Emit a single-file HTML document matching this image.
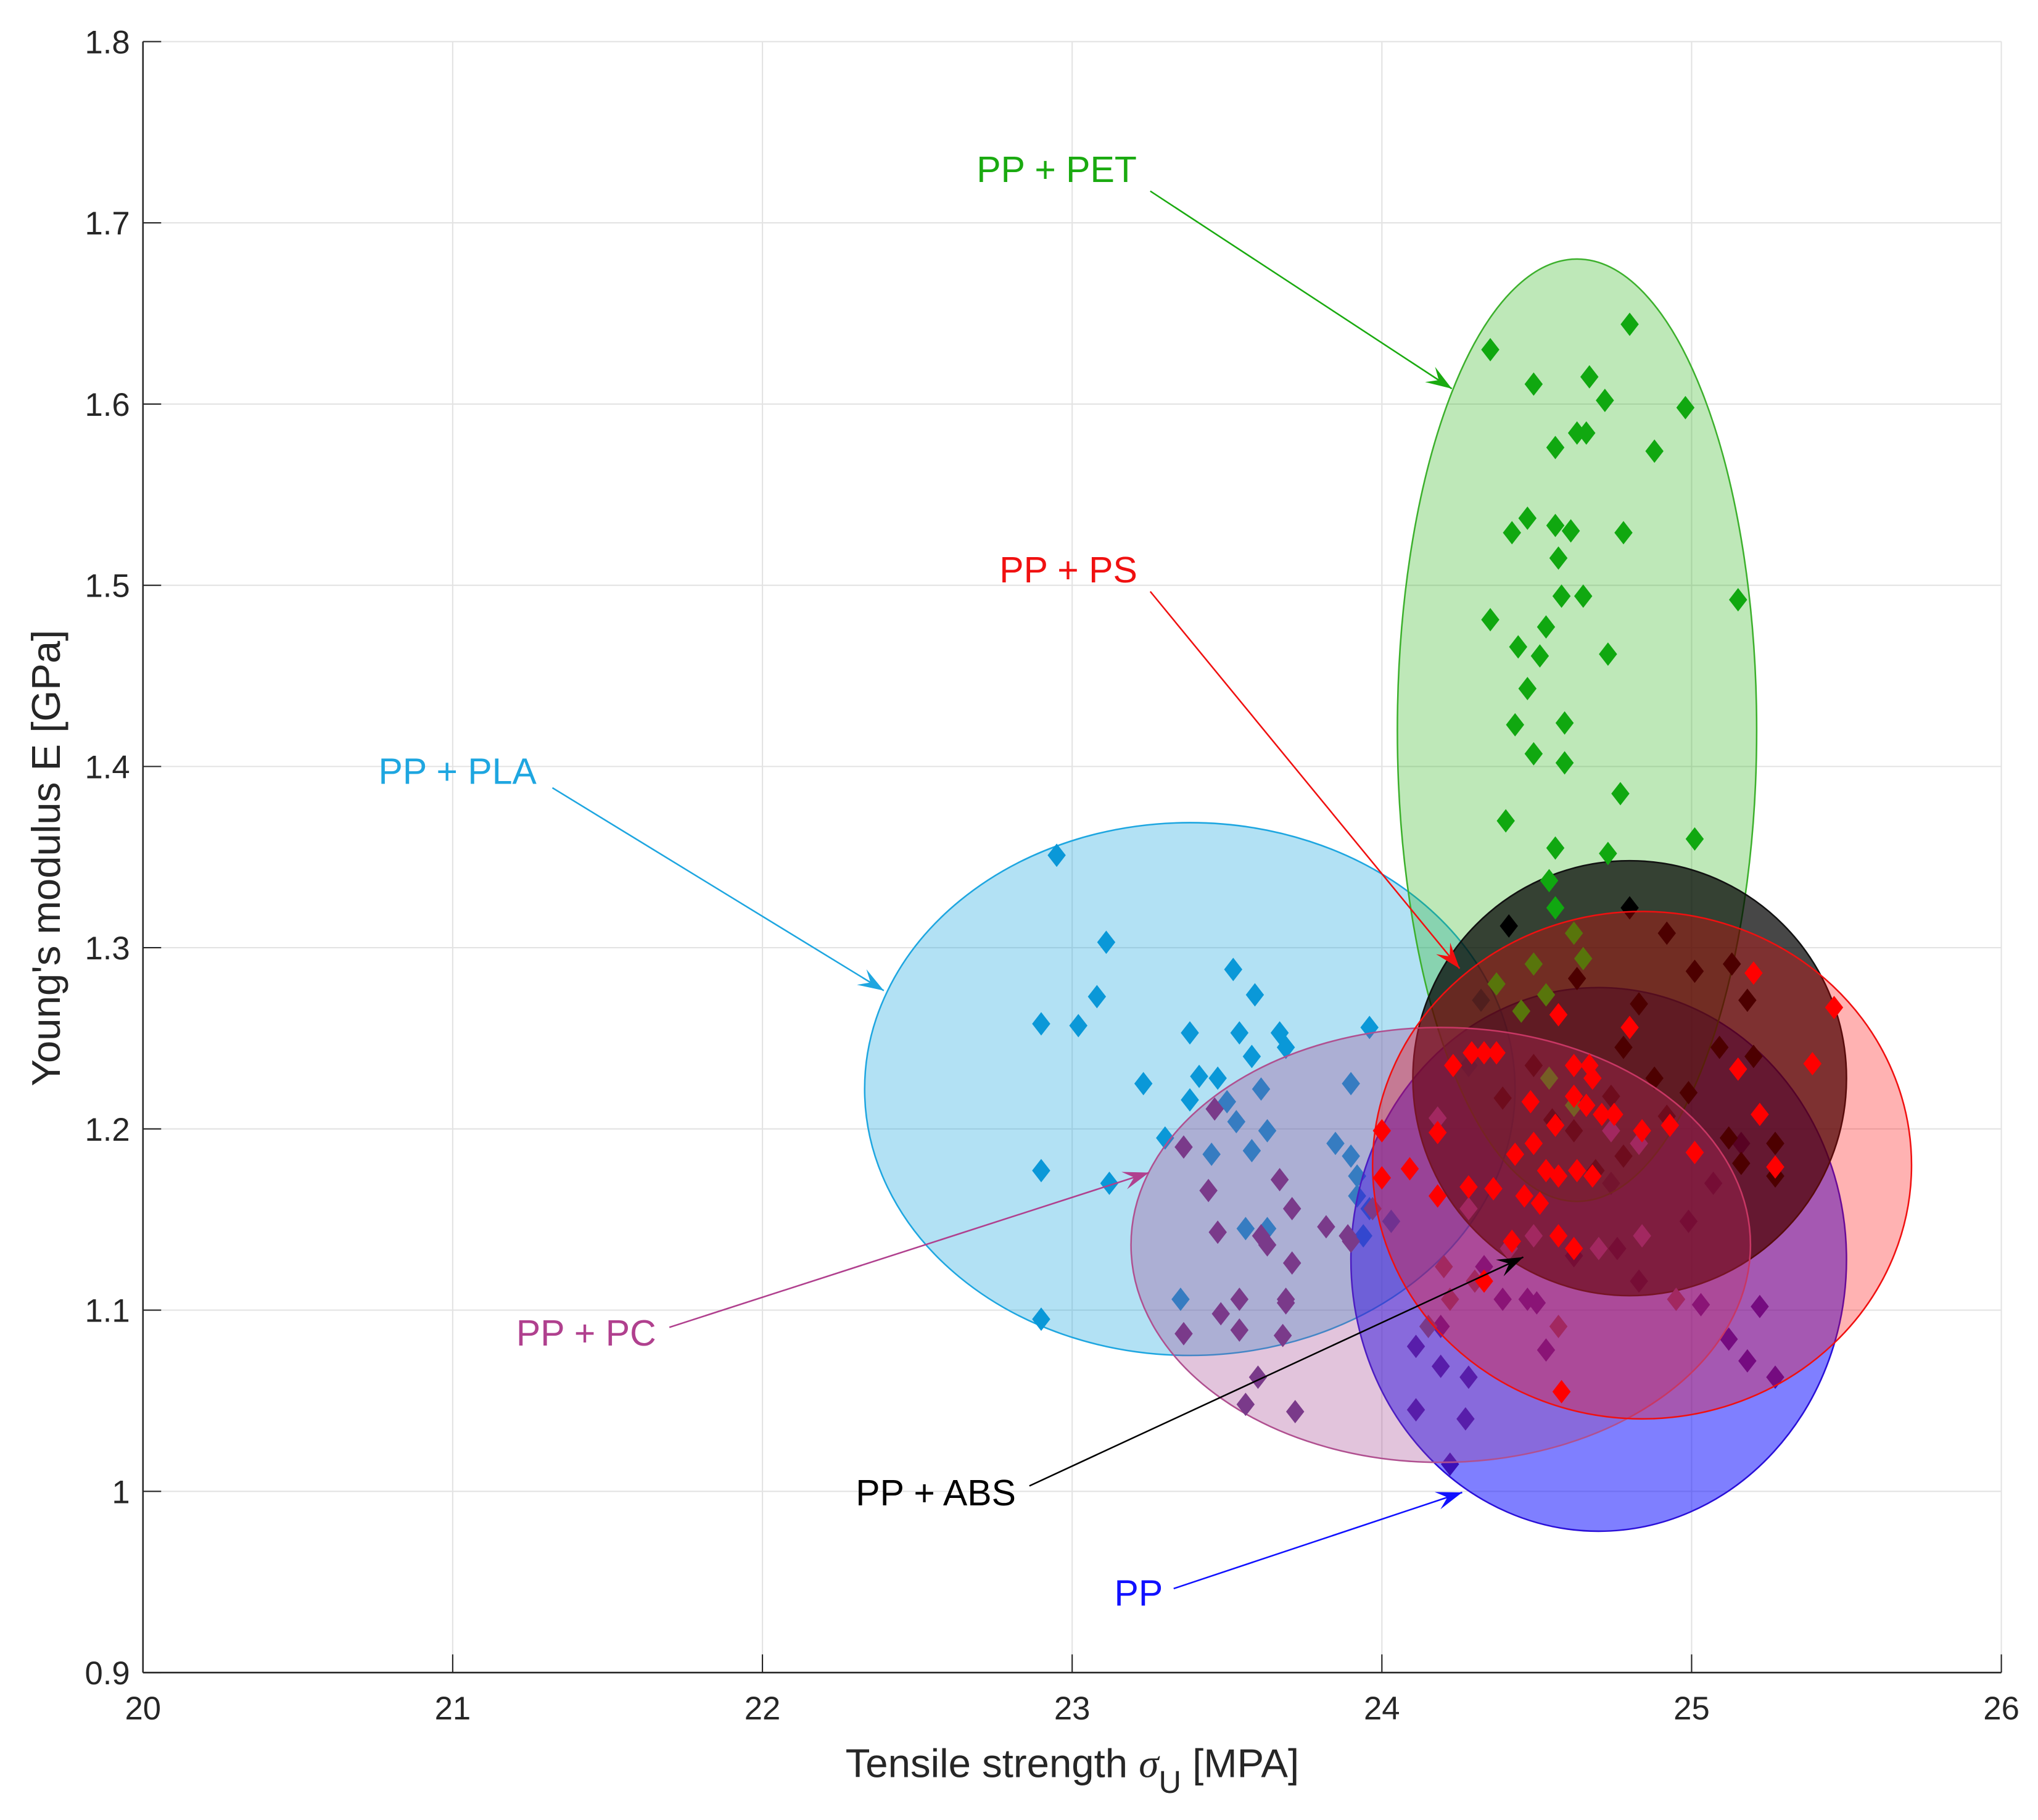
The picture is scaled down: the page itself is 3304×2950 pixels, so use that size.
<!DOCTYPE html>
<html><head><meta charset="utf-8"><style>
html,body{margin:0;padding:0;background:#fff;}
svg{display:block;font-family:"Liberation Sans",Arial,sans-serif;}
</style></head><body>
<svg id="chart" width="3304" height="2950" viewBox="0 0 1568 1400" xmlns="http://www.w3.org/2000/svg">
<g id="grid"></g>
<g id="ell"></g>
<g id="axes"></g>
<g id="ann"></g>
<text x="825" y="1367" font-size="31" text-anchor="middle" fill="#262626">Tensile strength <tspan font-family="Liberation Serif" font-style="italic">σ</tspan><tspan font-size="24" dy="12">U</tspan><tspan dy="-12"> [MPA]</tspan></text>
<text transform="translate(46,660) rotate(-90)" font-size="31" text-anchor="middle" fill="#262626">Young's modulus E [GPa]</text>
</svg>
<script>
const xTicks=[20,21,22,23,24,25,26];
const yTicks=[0.9,1,1.1,1.2,1.3,1.4,1.5,1.6,1.7,1.8];
const yTickLabels=["0.9","1","1.1","1.2","1.3","1.4","1.5","1.6","1.7","1.8"];
const groupNames=["PP + PLA","PP","PP + PET","PP + ABS","PP + PC","PP + PS"];
const ellCx=[23.38,24.70,24.63,24.80,24.19,24.84];
const ellCy=[1.222,1.128,1.420,1.228,1.136,1.180];
const ellRx=[1.05,0.80,0.58,0.70,1.00,0.87];
const ellRy=[0.147,0.150,0.260,0.120,0.120,0.140];
const plaX=[22.95,23.11,22.90,23.02,23.08,23.23,23.38,22.90,23.12,23.30,23.38,23.41,23.47,23.50,23.52,23.54,23.59,23.58,23.61,23.53,23.45,23.58,23.63,23.56,23.63,23.67,23.69,23.85,23.90,23.92,23.90,23.96,23.92,23.96,24.03,23.94,23.35,22.90,24.32,24.28];
const plaY=[1.351,1.303,1.258,1.257,1.273,1.225,1.253,1.177,1.170,1.195,1.216,1.229,1.228,1.215,1.288,1.253,1.274,1.240,1.222,1.204,1.186,1.188,1.199,1.145,1.145,1.253,1.245,1.192,1.185,1.174,1.225,1.256,1.163,1.156,1.149,1.141,1.106,1.095,1.271,1.235];
const ppX=[24.11,24.19,24.11,24.27,24.22,24.28,24.19,24.33,24.39,24.47,24.50,24.53,24.62,24.83,24.95,25.03,25.12,25.18,25.22,25.27,24.99,25.07,25.16,25.27,24.76,24.74];
const ppY=[1.080,1.069,1.045,1.040,1.015,1.063,1.091,1.124,1.106,1.106,1.104,1.078,1.130,1.116,1.106,1.103,1.084,1.072,1.102,1.063,1.149,1.170,1.192,1.192,1.134,1.170];
const petX=[24.35,24.49,24.67,24.80,24.72,24.98,24.88,24.56,24.63,24.66,24.47,24.42,24.56,24.61,24.78,24.57,24.35,24.44,24.51,24.53,24.58,24.65,24.73,25.15,24.47,24.43,24.59,24.49,24.59,24.77,24.40,25.01,24.56,24.73,24.54,24.56,24.62,24.65,24.37,24.45,24.49,24.53,24.62,24.54];
const petY=[1.630,1.611,1.615,1.644,1.602,1.598,1.574,1.576,1.584,1.584,1.537,1.529,1.533,1.530,1.529,1.515,1.481,1.466,1.461,1.477,1.494,1.494,1.462,1.492,1.443,1.423,1.424,1.407,1.402,1.385,1.370,1.360,1.355,1.352,1.337,1.322,1.308,1.294,1.280,1.265,1.291,1.274,1.213,1.228];
const absX=[24.41,24.80,24.92,25.01,25.13,25.09,25.20,25.18,24.83,24.88,24.74,24.92,24.99,25.12,25.27,25.16,25.27,24.78,24.69,24.62,24.49,24.63,24.78,24.39,24.55];
const absY=[1.312,1.322,1.308,1.287,1.291,1.245,1.240,1.271,1.269,1.228,1.218,1.207,1.220,1.195,1.192,1.181,1.174,1.185,1.177,1.199,1.235,1.283,1.245,1.217,1.205];
const pcX=[23.36,23.36,23.44,23.47,23.48,23.54,23.54,23.56,23.60,23.61,23.63,23.67,23.69,23.68,23.69,23.71,23.71,23.82,23.89,23.90,23.97,23.72,24.18,24.20,24.28,24.30,24.22,24.15,24.41,24.49,24.70,24.74,24.83,24.84,24.95,25.01,24.57,23.46];
const pcY=[1.190,1.087,1.166,1.143,1.098,1.089,1.106,1.048,1.063,1.141,1.136,1.172,1.106,1.086,1.104,1.156,1.126,1.146,1.141,1.138,1.156,1.044,1.206,1.124,1.156,1.116,1.106,1.091,1.134,1.141,1.134,1.199,1.192,1.141,1.106,1.187,1.091,1.211];
const psX=[24.23,24.29,24.33,24.37,24.28,24.18,24.09,24.00,24.18,24.36,24.43,24.48,24.57,24.62,24.67,24.68,24.62,24.66,24.71,24.75,24.80,24.84,24.93,24.56,24.53,24.57,24.63,24.68,24.49,24.46,24.51,24.57,24.62,24.33,24.42,24.58,25.01,25.15,25.22,25.27,25.39,25.46,25.20,24.00];
const psY=[1.235,1.242,1.242,1.242,1.168,1.198,1.178,1.173,1.163,1.167,1.186,1.215,1.263,1.235,1.235,1.228,1.218,1.213,1.208,1.208,1.256,1.199,1.202,1.202,1.177,1.174,1.177,1.174,1.192,1.163,1.159,1.141,1.134,1.116,1.138,1.055,1.187,1.233,1.208,1.179,1.236,1.267,1.286,1.199];
const NS="http://www.w3.org/2000/svg";
const X=v=>110+(v-20)*238.3;
const Y=v=>32+(1.8-v)*1394;
function mk(t,parent,attrs){const e=document.createElementNS(NS,t);for(const k in attrs)e.setAttribute(k,attrs[k]);parent.appendChild(e);return e;}
const grid=document.getElementById('grid'),axes=document.getElementById('axes'),ell=document.getElementById('ell'),ann=document.getElementById('ann');
xTicks.forEach((t,i)=>{
 const g=mk('line',grid,{x1:X(t),x2:X(t),y1:Y(1.8),y2:Y(0.9),stroke:'#e3e3e3','stroke-width':1});
 
 
 const tk=mk('line',axes,{x1:X(t),x2:X(t),y1:Y(0.9),y2:Y(0.9)-14,stroke:'#262626','stroke-width':1});
 
 
 const lb=mk('text',axes,{x:X(t),y:Y(0.9)+36,'font-size':25,'text-anchor':'middle',fill:'#262626'});
 lb.textContent=String(t);
 
 
});
yTicks.forEach((t,i)=>{
 const g=mk('line',grid,{x1:X(20),x2:X(26),y1:Y(t),y2:Y(t),stroke:'#e3e3e3','stroke-width':1});
 
 
 const tk=mk('line',axes,{x1:X(20),x2:X(20)+14,y1:Y(t),y2:Y(t),stroke:'#262626','stroke-width':1});
 
 
 const lb=mk('text',axes,{x:X(20)-10,y:Y(t)+9,'font-size':25,'text-anchor':'end',fill:'#262626'});
 lb.textContent=yTickLabels[i];
 
 
});
const xa=mk('line',axes,{x1:X(20),x2:X(26),y1:Y(0.9),y2:Y(0.9),stroke:'#262626','stroke-width':1.2});


const ya=mk('line',axes,{x1:X(20),x2:X(20),y1:Y(0.9),y2:Y(1.8),stroke:'#262626','stroke-width':1.2});



const fills=['rgba(30,166,224,0.34)','rgba(0,0,255,0.5)','rgba(40,180,20,0.3)','rgba(0,0,0,0.72)','rgba(160,60,140,0.3)','rgba(255,0,0,0.3)'];
const strokes=['#1ea6e0','#2a10d8','#3cb02c','#111','#b05090','#f01010'];
const mcol=['#0a98d8','#3a10b8','#10a810','#000','#7a3a8a','#ff0000'];
const ptsX=[plaX,ppX,petX,absX,pcX,psX],ptsY=[plaY,ppY,petY,absY,pcY,psY];
const slugs=['pla','pp','pet','abs','pc','ps'];
function drawEll(i){
 const e=mk('ellipse',ell,{cx:X(ellCx[i]),cy:Y(ellCy[i]),rx:ellRx[i]*238.3,ry:ellRy[i]*1394,fill:fills[i],stroke:strokes[i],'stroke-width':1.2});
 
 
}
function drawPts(i){
 const xs=ptsX[i],ys=ptsY[i];
 for(let k=0;k<xs.length;k++){
  const cx=X(xs[k]),cy=Y(ys[k]);
  const p=mk('polygon',ell,{points:`${cx},${cy-9} ${cx+7},${cy} ${cx},${cy+9} ${cx-7},${cy}`,fill:mcol[i]});
  
  
 }
}
drawEll(0);drawPts(0);
drawEll(1);drawPts(1);
drawEll(2);
drawEll(3);drawPts(3);drawPts(2);
drawEll(4);drawPts(4);
drawEll(5);drawPts(5);

const annText=["PP + PET","PP + PS","PP + PLA","PP + PC","PP + ABS","PP"];
const annColor=['#1aaa10','#f01010','#1ea6e0','#b0408e','#000','#1010ff'];
const annPos=[[813,140],[822,448],[352,603],[451,1035],[720,1158],[876,1235]];
const annLine=[[885,147,1117,299],[885,455,1123,745],[425,606,680,762],[515,1021,884,902],[792,1143,1172,967],[903,1222,1125,1148]];
annText.forEach((t,i)=>{
 const tx=mk('text',ann,{x:annPos[i][0],y:annPos[i][1],'font-size':28,'text-anchor':'middle',fill:annColor[i]});
 tx.textContent=t;
 
 
 const [x1,y1,x2,y2]=annLine[i];
 const ln=mk('line',ann,{x1,y1,x2,y2,stroke:annColor[i],'stroke-width':1.2});
 
 
 const a=Math.atan2(y2-y1,x2-x1),L=20,W=7;
 const bx=x2-L*Math.cos(a),by=y2-L*Math.sin(a);
 const mx=x2-L*0.6*Math.cos(a),my=y2-L*0.6*Math.sin(a);
 const px=-Math.sin(a)*W,py=Math.cos(a)*W;
 const hd=mk('polygon',ann,{points:`${x2},${y2} ${bx+px},${by+py} ${mx},${my} ${bx-px},${by-py}`,fill:annColor[i]});
 
 
});
</script>
</body></html>
